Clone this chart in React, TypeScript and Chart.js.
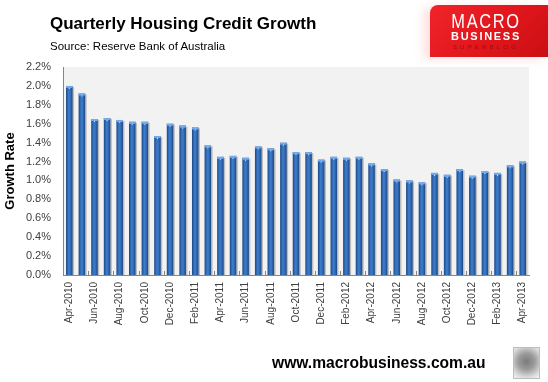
import React, { useEffect, useRef } from 'react';
import { Chart, registerables } from 'chart.js';

Chart.register(...registerables);

const months: string[] = [
  'Apr-2010', 'May-2010', 'Jun-2010', 'Jul-2010', 'Aug-2010', 'Sep-2010', 'Oct-2010', 'Nov-2010', 'Dec-2010',
  'Jan-2011', 'Feb-2011', 'Mar-2011', 'Apr-2011', 'May-2011', 'Jun-2011', 'Jul-2011', 'Aug-2011', 'Sep-2011',
  'Oct-2011', 'Nov-2011', 'Dec-2011', 'Jan-2012', 'Feb-2012', 'Mar-2012', 'Apr-2012', 'May-2012', 'Jun-2012',
  'Jul-2012', 'Aug-2012', 'Sep-2012', 'Oct-2012', 'Nov-2012', 'Dec-2012', 'Jan-2013', 'Feb-2013', 'Mar-2013',
  'Apr-2013',
];

const growth: number[] = [
  2.00, 1.92, 1.65, 1.66, 1.64, 1.62, 1.62, 1.47, 1.60, 1.58,
  1.56, 1.37, 1.25, 1.26, 1.24, 1.36, 1.34, 1.40, 1.30, 1.30,
  1.22, 1.25, 1.24, 1.25, 1.18, 1.12, 1.01, 1.00, 0.98, 1.08,
  1.06, 1.12, 1.05, 1.10, 1.08, 1.16, 1.20,
];

const yMin = 0;
const yMax = 2.2;
const yStep = 0.2;

const titleText = 'Quarterly Housing Credit Growth';
const subtitleText = 'Source: Reserve Bank of Australia';
const yAxisTitle = 'Growth Rate';
const footerText = 'www.macrobusiness.com.au';

const BAR_PCT = 0.52;

const decorPlugin = {
  id: 'decor',
  beforeDraw(chart: any) {
    const { ctx, chartArea } = chart;
    ctx.save();
    ctx.fillStyle = '#F2F2F2';
    ctx.fillRect(chartArea.left, chartArea.top, chartArea.right - chartArea.left, chartArea.bottom - chartArea.top);
    ctx.restore();
  },
  beforeDatasetsDraw(chart: any) {
    const { ctx } = chart;
    const meta = chart.getDatasetMeta(0);
    ctx.save();
    ctx.fillStyle = 'rgba(0,0,0,0.22)';
    meta.data.forEach((el: any) => {
      const w = el.width;
      ctx.fillRect(el.x - w / 2 + 1.5, el.y + 1, w, el.base - el.y - 1);
    });
    ctx.restore();
  },
  afterDatasetsDraw(chart: any) {
    const { ctx, chartArea } = chart;
    const meta = chart.getDatasetMeta(0);
    const xs = chart.scales.x;
    ctx.save();
    meta.data.forEach((el: any) => {
      const w = el.width;
      ctx.fillStyle = '#74ACEE';
      ctx.fillRect(el.x - w / 2, el.y, w, 2);
      ctx.fillStyle = '#DCEBFF';
      ctx.fillRect(el.x - 0.5, el.y + 2, 1, 1);
    });
    // inner category tick marks every two categories
    const n = months.length;
    const step = (xs.right - xs.left) / n;
    ctx.strokeStyle = '#868686';
    ctx.lineWidth = 1;
    for (let k = 2; k < n; k += 2) {
      const x = Math.round(xs.getPixelForValue(k) - step / 2) + 0.5;
      ctx.beginPath();
      ctx.moveTo(x, chartArea.bottom);
      ctx.lineTo(x, chartArea.bottom - 4);
      ctx.stroke();
    }
    ctx.restore();
  },
};

function barFill(c: any) {
  const chart = c.chart;
  const xs = chart.scales && chart.scales.x;
  if (!xs || c.type !== 'data' || !isFinite(xs.width) || xs.width <= 0) return '#2F6AB5';
  const cx = xs.getPixelForValue(c.dataIndex);
  const w = (xs.width / months.length) * BAR_PCT;
  const g = chart.ctx.createLinearGradient(cx - w / 2, 0, cx + w / 2, 0);
  g.addColorStop(0, '#1D4680');
  g.addColorStop(0.4, '#3B7BCB');
  g.addColorStop(0.6, '#3675C4');
  g.addColorStop(1, '#1D4680');
  return g;
}

export default function App() {
  const canvasRef = useRef<HTMLCanvasElement | null>(null);

  useEffect(() => {
    if (!canvasRef.current) return;
    const chart = new Chart(canvasRef.current, {
      type: 'bar',
      data: {
        labels: months,
        datasets: [
          {
            data: growth,
            backgroundColor: barFill as any,
            borderWidth: 0,
            barPercentage: BAR_PCT,
            categoryPercentage: 1,
          },
        ],
      },
      options: {
        responsive: false,
        animation: false,
        events: [],
        layout: { padding: { top: 67, right: 19, left: 0, bottom: 0 } },
        plugins: {
          legend: { display: false },
          tooltip: { enabled: false },
          title: { display: false },
        },
        scales: {
          x: {
            grid: { display: false, drawTicks: false },
            border: { display: true, color: '#868686', width: 1 },
            ticks: {
              autoSkip: false,
              maxRotation: 90,
              minRotation: 90,
              padding: 7,
              color: '#404040',
              font: { family: '"Liberation Sans", Arial, sans-serif', size: 10 },
              callback: (_v: any, i: number) => (i % 2 === 0 ? months[i] : ''),
            },
            afterFit: (s: any) => {
              s.height = 107;
            },
          },
          y: {
            min: yMin,
            max: yMax,
            grid: { display: false, drawTicks: false },
            border: { display: true, color: '#868686', width: 1 },
            ticks: {
              stepSize: yStep,
              padding: 12,
              color: '#404040',
              font: { family: '"Liberation Sans", Arial, sans-serif', size: 11 },
              callback: (v: any) => Number(v).toFixed(1) + '%',
            },
            title: {
              display: true,
              text: yAxisTitle,
              color: '#000000',
              font: { family: '"Liberation Sans", Arial, sans-serif', size: 13, weight: 'bold' },
              padding: { top: 3, bottom: 0 },
            },
            afterFit: (s: any) => {
              s.width = 63;
            },
          },
        },
      },
      plugins: [decorPlugin],
    });
    return () => chart.destroy();
  }, []);

  return (
    <div
      style={{
        position: 'absolute',
        left: 0,
        top: 0,
        width: 548,
        height: 382,
        background: '#FFFFFF',
        overflow: 'hidden',
        fontFamily: '"Liberation Sans", Arial, sans-serif',
      }}
    >
      <canvas ref={canvasRef} width={548} height={382} style={{ position: 'absolute', left: 0, top: 0 }} />
      <div
        style={{
          position: 'absolute',
          left: 50,
          top: 15,
          fontSize: 17,
          lineHeight: '17px',
          fontWeight: 'bold',
          color: '#000',
          whiteSpace: 'nowrap',
        }}
      >
        {titleText}
      </div>
      <div
        style={{
          position: 'absolute',
          left: 50,
          top: 40,
          fontSize: 11.5,
          lineHeight: '12px',
          color: '#000',
          whiteSpace: 'nowrap',
        }}
      >
        {subtitleText}
      </div>
      <div
        style={{
          position: 'absolute',
          left: 430,
          top: 5,
          width: 118,
          height: 52,
          borderTopLeftRadius: 8,
          background: 'linear-gradient(135deg, #F0252A 0%, #E0161C 55%, #C90F14 100%)',
          boxShadow: '-6px 2px 10px rgba(255,200,200,0.6)',
        }}
      >
        <div
          style={{
            position: 'absolute',
            left: 0,
            top: 6,
            width: 112,
            textAlign: 'center',
            color: '#FFFFFF',
            fontSize: 20,
            lineHeight: '20px',
            letterSpacing: 2,
            transform: 'scaleX(0.82)',
          }}
        >
          MACRO
        </div>
        <div
          style={{
            position: 'absolute',
            left: 0,
            top: 26,
            width: 112,
            textAlign: 'center',
            color: '#FFFFFF',
            fontSize: 11,
            lineHeight: '11px',
            fontWeight: 'bold',
            letterSpacing: 1.7,
          }}
        >
          BUSINESS
        </div>
        <div
          style={{
            position: 'absolute',
            left: 0,
            top: 39,
            width: 112,
            textAlign: 'center',
            color: '#8E1014',
            fontSize: 6,
            lineHeight: '6px',
            letterSpacing: 3.2,
          }}
        >
          SUPERBLOG
        </div>
      </div>
      <div
        style={{
          position: 'absolute',
          left: 272,
          top: 355,
          fontSize: 15.6,
          lineHeight: '16px',
          fontWeight: 'bold',
          color: '#000',
          whiteSpace: 'nowrap',
        }}
      >
        {footerText}
      </div>
      <div
        style={{
          position: 'absolute',
          left: 513,
          top: 347,
          width: 25,
          height: 30,
          border: '1px solid #BDBDBD',
          background: 'radial-gradient(circle at 50% 45%, #7A7A7A 0%, #9C9C9C 40%, #D8D8D8 75%, #F4F4F4 100%)',
        }}
      />
    </div>
  );
}
